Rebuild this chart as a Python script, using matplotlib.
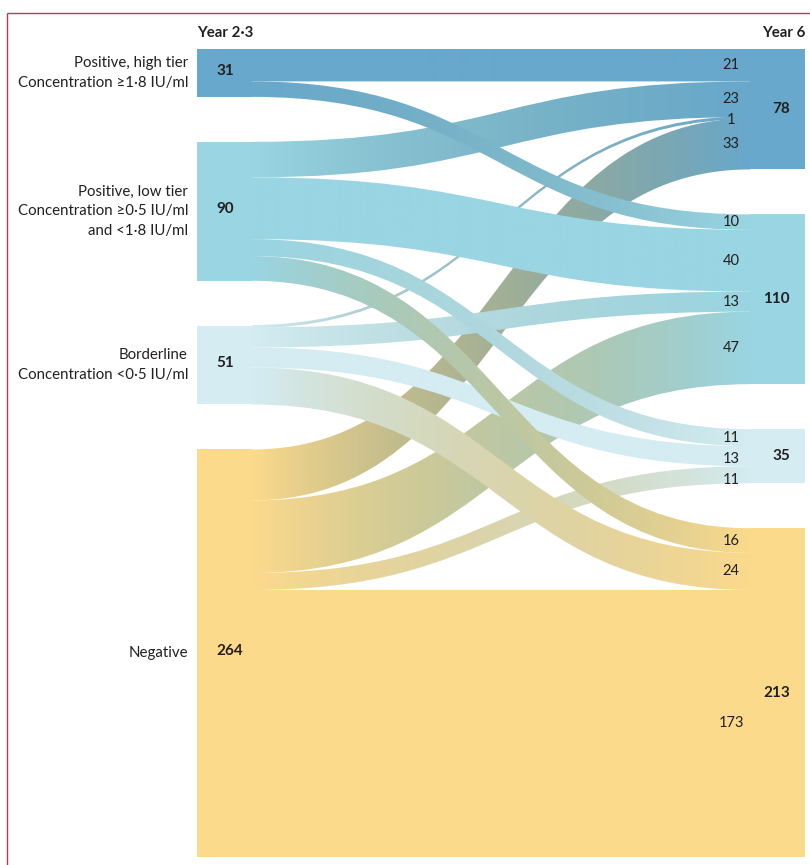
import numpy as np
import matplotlib
matplotlib.use("Agg")
import matplotlib.pyplot as plt
from matplotlib.path import Path
from matplotlib.patches import PathPatch, Rectangle
from matplotlib.colors import to_rgb

# ---------------- data ----------------
categories = [
    "Positive, high tier\nConcentration \u22651\u00b78 IU/ml",
    "Positive, low tier\nConcentration \u22650\u00b75 IU/ml\nand <1\u00b78 IU/ml",
    "Borderline\nConcentration <0\u00b75 IU/ml",
    "Negative",
]
left_header = "Year 2\u00b73"
right_header = "Year 6"
# rows: status at year 2-3; columns: status at year 6
flow_high = [21, 10, 0, 0]
flow_low = [23, 40, 11, 16]
flow_border = [1, 13, 13, 24]
flow_neg = [33, 47, 11, 173]
node_colors = ["#68A8CC", "#9AD5E3", "#D4ECF2", "#FCDA8C"]

flows = np.array([flow_high, flow_low, flow_border, flow_neg])
src_tot = flows.sum(axis=1)
tgt_tot = flows.sum(axis=0)

# ---------------- layout ----------------
W, H = 810, 865
TOP, BOTTOM, GAP = 49, 857, 45
XL0, XL1 = 197, 252      # left node bar
XR0, XR1 = 750, 805      # right node bar
scale = (BOTTOM - TOP - 3 * GAP) / src_tot.sum()
MIN_DRAW = 3.0           # minimum drawn thickness of a ribbon (px)
TXT = "#231F20"
FONT = ["Lato", "DejaVu Sans"]

plt.rcParams["font.family"] = FONT

fig = plt.figure(figsize=(W / 100, H / 100), dpi=100)
ax = fig.add_axes([0, 0, 1, 1])
ax.set_xlim(0, W)
ax.set_ylim(H, 0)
ax.axis("off")


def node_positions(totals):
    pos = []
    y = TOP
    for t in totals:
        pos.append((y, y + t * scale))
        y += t * scale + GAP
    return pos


lpos = node_positions(src_tot)
rpos = node_positions(tgt_tot)

# nodes
for i in range(4):
    y0, y1 = lpos[i]
    ax.add_patch(Rectangle((XL0, y0), XL1 - XL0, y1 - y0, fc=node_colors[i], ec="none", zorder=1))
    y0, y1 = rpos[i]
    ax.add_patch(Rectangle((XR0, y0), XR1 - XR0, y1 - y0, fc=node_colors[i], ec="none", zorder=1))


def gradient(c0, c1, n=256):
    a = np.array(to_rgb(c0))
    b = np.array(to_rgb(c1))
    t = np.linspace(0, 1, n)[:, None]
    c = (1 - t) * a + t * b
    diff = min(np.abs(a - b).sum() / 0.9, 1.0)
    bump = 4 * t * (1 - t)
    c = c * (1 - 0.09 * diff * bump)
    c[:, 2] = c[:, 2] * (1 - 0.04 * diff * bump[:, 0])
    return np.clip(c, 0, 1)[None, :, :]


# offsets inside nodes
src_off = [p[0] for p in lpos]
tgt_off = [p[0] for p in rpos]
segments = {}
for i in range(4):
    for j in range(4):
        v = flows[i, j]
        if v == 0:
            continue
        h = v * scale
        segments[(i, j)] = (src_off[i], src_off[i] + h, tgt_off[j], tgt_off[j] + h)
        src_off[i] += h
        tgt_off[j] += h

xm = (XL1 + XR0) / 2
z = 2
for i in [3, 2, 1, 0]:
    for j in range(4):
        if (i, j) not in segments:
            continue
        a0, a1, b0, b1 = segments[(i, j)]
        h = a1 - a0
        if h < MIN_DRAW:
            pad = (MIN_DRAW - h) / 2
            a0, a1, b0, b1 = a0 - pad, a1 + pad, b0 - pad, b1 + pad
        verts = [(XL1 - 0.5, a0), (xm, a0), (xm, b0), (XR0 + 0.5, b0),
                 (XR0 + 0.5, b1), (xm, b1), (xm, a1), (XL1 - 0.5, a1), (XL1 - 0.5, a0)]
        codes = [Path.MOVETO, Path.CURVE4, Path.CURVE4, Path.CURVE4,
                 Path.LINETO, Path.CURVE4, Path.CURVE4, Path.CURVE4, Path.CLOSEPOLY]
        patch = PathPatch(Path(verts, codes), fc="none", ec="none", zorder=z)
        ax.add_patch(patch)
        im = ax.imshow(gradient(node_colors[i], node_colors[j]), aspect="auto",
                       extent=(XL1 - 0.5, XR0 + 0.5, max(a1, b1) + 1, min(a0, b0) - 1),
                       interpolation="bilinear", zorder=z)
        im.set_clip_path(patch)
        z += 0.01

# flow value labels on the right
for j in range(4):
    prev = -1e9
    for i in range(4):
        if (i, j) not in segments:
            continue
        _, _, b0, b1 = segments[(i, j)]
        yc = max((b0 + b1) / 2, prev + 21)
        prev = yc
        ax.text(731, yc, str(flows[i, j]), ha="center", va="center", fontsize=10.5,
                color=TXT, zorder=10)

# node totals and category labels
for i in range(4):
    y0, y1 = lpos[i]
    yc = (y0 + y1) / 2
    ax.text(216, yc - 2, str(src_tot[i]), ha="left", va="center", fontsize=11,
            fontweight="bold", color=TXT, zorder=10)
    ax.text(188, yc, categories[i], ha="right", va="center", multialignment="right",
            fontsize=10.8, color=TXT, linespacing=1.5, zorder=10)
    y0, y1 = rpos[i]
    ax.text(790, (y0 + y1) / 2, str(tgt_tot[i]), ha="right", va="center", fontsize=11,
            fontweight="bold", color=TXT, zorder=10)

ax.text(197, 33, left_header, ha="left", va="center", fontsize=10.8, fontweight="bold", color=TXT)
ax.text(805, 33, right_header, ha="right", va="center", fontsize=10.8, fontweight="bold", color=TXT)

# panel frame (top and left)
ax.plot([7, W], [13, 13], color="#B83A5A", lw=1.0, solid_capstyle="butt")
ax.plot([7, 7], [13, H], color="#B83A5A", lw=1.0, solid_capstyle="butt")

ax.set_xlim(0, W)
ax.set_ylim(H, 0)
fig.savefig("out.png", dpi=100)
